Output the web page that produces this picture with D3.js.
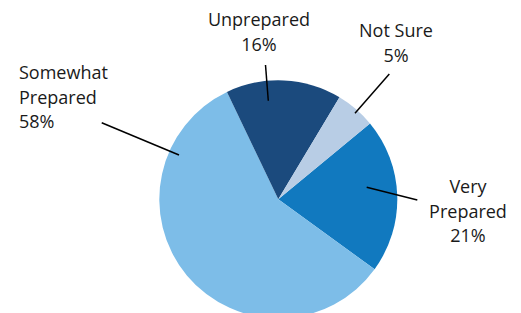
<!DOCTYPE html>
<html lang="en">
<head>
<meta charset="UTF-8">
<title>Preparedness pie</title>
<style>
    body { margin: 0; background: #fff; }
    .label text { font: 18px "Open Sans", sans-serif; fill: #1a1a1a; }
    .leader { stroke: #000; stroke-width: 1.5px; fill: none; }
</style>
</head>
<body>
<div id="chart"></div>
<script src="https://cdn.jsdelivr.net/npm/d3@7"></script>
<script>
    // slice order runs clockwise from the first slice's start angle
    const categories = ["Very Prepared", "Somewhat Prepared", "Unprepared", "Not Sure"];
    const shares = [0.21, 0.579, 0.157, 0.054];
    const colors = ["#1179BF", "#7DBDE8", "#1B4A7D", "#B8CDE5"];
    const labelLines = [["Very", "Prepared"], ["Somewhat", "Prepared"], ["Unprepared"], ["Not Sure"]];

    // label placement (manual, like the original): anchor point, alignment, leader ends
    const callouts = [
        { x: 468, y: 193, anchor: "middle", from: [366.7, 187.3], to: [417.3, 200] },
        { x: 19, y: 79, anchor: "start", from: [179, 155], to: [101.7, 122.7] },
        { x: 259, y: 26, anchor: "middle", from: [268.3, 100.7], to: [265.5, 65] },
        { x: 396, y: 37, anchor: "middle", from: [355, 113.3], to: [389.3, 74] }
    ];

    const width = 521, height = 313;
    const cx = 278.3, cy = 199.3, radius = 119;
    const startDeg = 50.4;
    const lineH = 24.5;

    const svg = d3.select("#chart").append("svg")
        .attr("width", width)
        .attr("height", height);

    const pie = d3.pie()
        .sort(null)
        .startAngle(startDeg * Math.PI / 180)
        .endAngle((startDeg + 360) * Math.PI / 180)
        .value(d => d);

    const arc = d3.arc().innerRadius(0).outerRadius(radius);

    const g = svg.append("g").attr("transform", `translate(${cx},${cy})`);

    g.selectAll("path")
        .data(pie(shares))
        .enter().append("path")
        .attr("d", arc)
        .attr("fill", (d, i) => colors[i]);

    svg.selectAll(".leader")
        .data(callouts)
        .enter().append("line")
        .attr("class", "leader")
        .attr("x1", d => d.from[0]).attr("y1", d => d.from[1])
        .attr("x2", d => d.to[0]).attr("y2", d => d.to[1]);

    const pct = d3.format(".0%");
    const labels = svg.selectAll(".label")
        .data(categories)
        .enter().append("g")
        .attr("class", "label");

    labels.each(function (name, i) {
        const c = callouts[i];
        const lines = labelLines[i].concat([pct(shares[i])]);
        const t = d3.select(this).append("text")
            .attr("text-anchor", c.anchor);
        lines.forEach((s, k) => {
            t.append("tspan")
                .attr("x", c.x)
                .attr("y", c.y + k * lineH)
                .text(s);
        });
    });
</script>
</body>
</html>
